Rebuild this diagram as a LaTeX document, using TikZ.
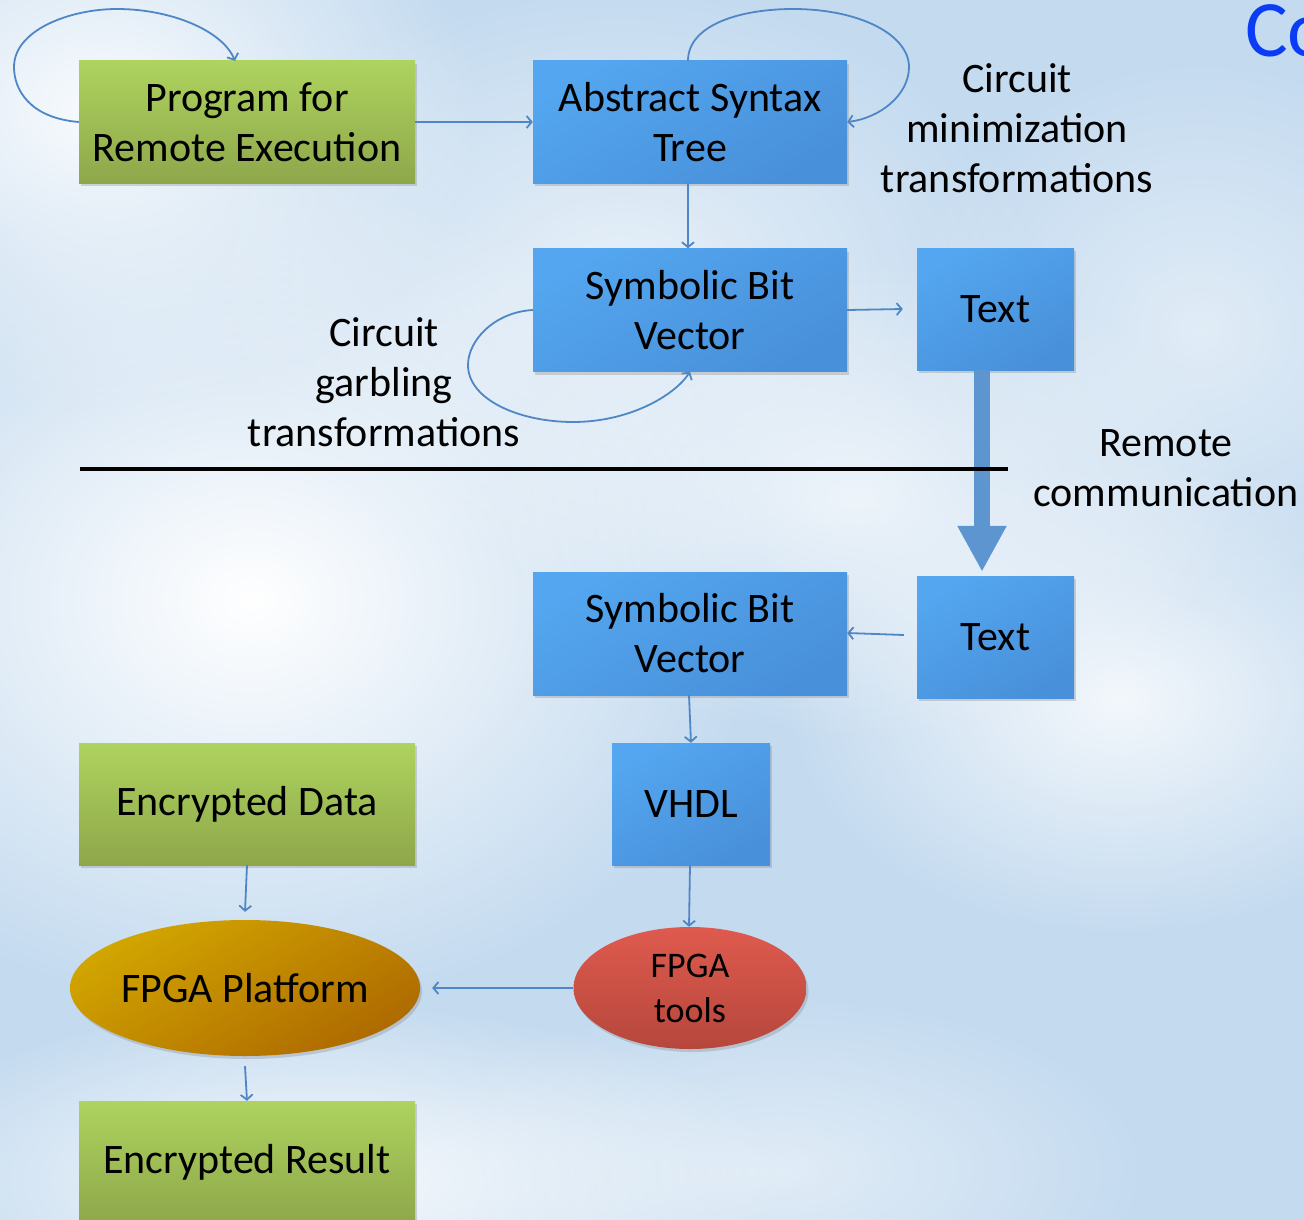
\documentclass[tikz,border=0pt]{standalone}
\usepackage{fontspec}
\setmainfont{Carlito}
\usetikzlibrary{arrows.meta,shapes.geometric,shadows,fadings}

\definecolor{skyblue}{HTML}{C3DAEF}
\definecolor{linkblue}{HTML}{4F86C6}
\definecolor{fatblue}{HTML}{5C95D0}
\definecolor{greentop}{HTML}{AED35E}
\definecolor{greenbot}{HTML}{8EA74B}
\definecolor{bluetop}{HTML}{53A6EF}
\definecolor{bluebot}{HTML}{4990DA}
\definecolor{goldtop}{HTML}{D2A600}
\definecolor{goldbot}{HTML}{AE6A00}
\definecolor{redtop}{HTML}{DF5A4E}
\definecolor{redbot}{HTML}{B6473C}
\definecolor{titleblue}{HTML}{0A3CF5}

% soft radial fall-off for the clouds
\tikzfading[name=softblob, inner color=transparent!0, outer color=transparent!100]

\tikzset{
  lbl/.style={font=\fontsize{42}{50}\selectfont, align=center, text=black},
  box/.style={lbl, inner sep=0pt, rectangle,
    drop shadow={shadow xshift=2pt, shadow yshift=-3pt, opacity=0.3}},
  greenbox/.style={box, top color=greentop, bottom color=greenbot},
  bluebox/.style={box, top color=bluetop, bottom color=bluebot, shading angle=30},
  oval/.style={lbl, ellipse, inner sep=0pt,
    drop shadow={shadow xshift=2pt, shadow yshift=-3pt, opacity=0.3}},
  link/.style={draw=linkblue, line width=1.8pt,
    -{Straight Barb[length=5pt,width=12pt,line width=1.8pt]}},
  cloud/.style={fill=white, path fading=softblob},
}

\begin{document}
\begin{tikzpicture}[x=1pt,y=-1pt]
\useasboundingbox (0,0) rectangle (1304,1220);
\clip (0,0) rectangle (1304,1220);

% sky background
\fill[skyblue] (0,0) rectangle (1304,1220);
\fill[cloud, opacity=1] (250,600) ellipse [x radius=520, y radius=420];
\fill[cloud, opacity=0.9] (100,110) ellipse [x radius=380, y radius=300];
\fill[cloud, opacity=0.6] (620,280) ellipse [x radius=420, y radius=300];
\fill[cloud, opacity=0.8] (1120,700) ellipse [x radius=340, y radius=240];
\fill[cloud, opacity=0.7] (860,500) ellipse [x radius=380, y radius=240];
\fill[cloud, opacity=0.9] (320,1180) ellipse [x radius=460, y radius=180];
\fill[cloud, opacity=0.5] (780,1170) ellipse [x radius=380, y radius=180];
\fill[cloud, opacity=0.5] (1200,330) ellipse [x radius=300, y radius=280];

% title fragment at the right edge
\node[anchor=base west, inner sep=0pt, text=titleblue,
      font=\fontsize{80}{90}\selectfont] (title) at (1245,57) {Co};

% boxes
\node[greenbox, minimum width=336pt, minimum height=122pt] (prog) at (247,122)
  {Program for\\Remote Execution};
\node[bluebox, minimum width=314pt, minimum height=122pt] (ast) at (690,122)
  {Abstract Syntax\\Tree};
\node[bluebox, minimum width=314pt, minimum height=123pt] (sbvA) at (690,310)
  {Symbolic Bit\\Vector};
\node[bluebox, minimum width=157pt, minimum height=122pt] (txtA) at (995.5,309)
  {Text};
\node[bluebox, minimum width=314pt, minimum height=123pt] (sbvB) at (690,633.5)
  {Symbolic Bit\\Vector};
\node[bluebox, minimum width=157pt, minimum height=122pt] (txtB) at (995.5,637)
  {Text};
\node[bluebox, minimum width=158pt, minimum height=122pt] (vhdl) at (691,804)
  {VHDL};
\node[greenbox, minimum width=336pt, minimum height=122pt] (encdata) at (247,804)
  {Encrypted Data};
\node[greenbox, minimum width=336pt, minimum height=122pt] (encres) at (247,1162)
  {Encrypted Result};
\node[oval, minimum width=346pt, minimum height=136pt,
      top color=goldtop, bottom color=goldbot, shading angle=30] (platform) at (245,988)
  {FPGA Platform};
\node[oval, minimum width=233pt, minimum height=122pt, font=\fontsize{36}{45}\selectfont,
      top color=redtop, bottom color=redbot] (tools) at (690,988)
  {FPGA\\tools};

% free-standing labels
\node[lbl] (minlbl) at (1017,128) {Circuit\\minimization\\transformations};
\node[lbl] (garblbl) at (384,382) {Circuit\\garbling\\transformations};
\node[lbl] (remlbl) at (1166,468) {Remote\\communication};

% remote transfer arrow, crossed by the divider
\draw[fatblue, line width=16pt, shorten >=4pt,
      -{Triangle[length=46pt,width=46pt]}]
  ([xshift=-13.5pt]txtA.south) -- ([xshift=-13.5pt]txtB.north);
\draw[black, line width=4pt] (80,469) -- (1008,469);

% connectors
\draw[link] (prog.west) .. controls (30,118) and (14,90) .. (14,67)
  .. controls (14,30) and (70,9) .. (117,9)
  .. controls (170,9) and (222,30) .. ([xshift=-12pt]prog.north);
\draw[link] (prog.east) -- (ast.west);
\draw[link] ([xshift=-2pt]ast.north) .. controls (688,25) and (740,9) .. (793,9)
  .. controls (860,9) and (909,35) .. (909,67)
  .. controls (909,95) and (880,118) .. (ast.east);
\draw[link] ([xshift=-2pt]ast.south) -- ([xshift=-2pt]sbvA.north);
\draw[link] (sbvA.east) -- ([xshift=-14pt]txtA.west);
\draw[link] (sbvA.west) .. controls (495,312) and (468,340) .. (468,365)
  .. controls (468,400) and (520,422) .. (573,422)
  .. controls (630,422) and (675,395) .. (sbvA.south);
\draw[link] ([xshift=-13pt,yshift=2pt]txtB.west) -- ([yshift=0.5pt]sbvB.east);
\draw[link] ([xshift=-1pt]sbvB.south) -- (vhdl.north);
\draw[link] ([xshift=-1pt]vhdl.south) -- ([xshift=-1pt]tools.north);
\draw[link] (tools.west) -- ([xshift=12pt]platform.east);
\draw[link] (encdata.south) -- ([yshift=8pt]platform.north);
\draw[link] ([yshift=-10pt]platform.south) -- (encres.north);
\end{tikzpicture}
\end{document}
